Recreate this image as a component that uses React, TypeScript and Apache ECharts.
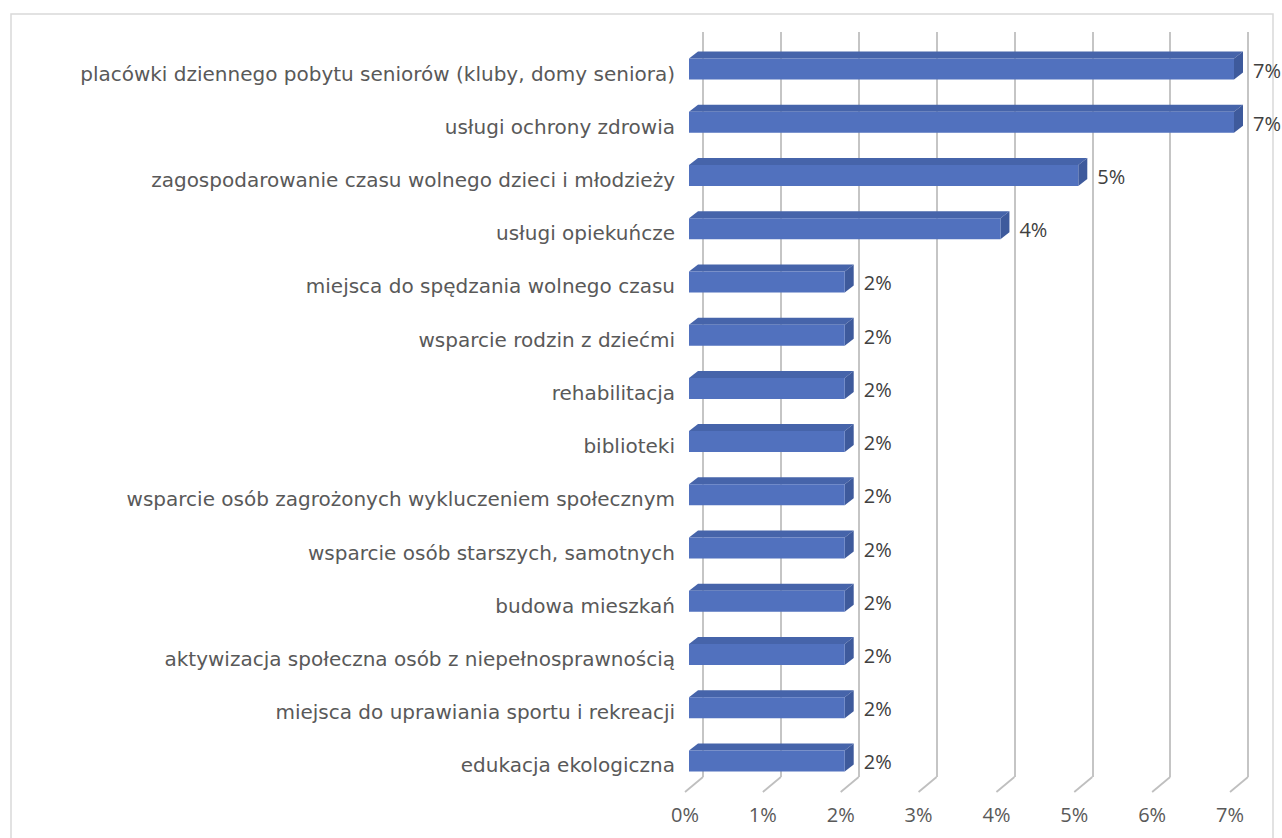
import React, { useEffect, useRef } from "react";
import * as echarts from "echarts";

const categories: string[] = [
  "placówki dziennego pobytu seniorów (kluby, domy seniora)",
  "usługi ochrony zdrowia",
  "zagospodarowanie czasu wolnego dzieci i młodzieży",
  "usługi opiekuńcze",
  "miejsca do spędzania wolnego czasu",
  "wsparcie rodzin z dziećmi",
  "rehabilitacja",
  "biblioteki",
  "wsparcie osób zagrożonych wykluczeniem społecznym",
  "wsparcie osób starszych, samotnych",
  "budowa mieszkań",
  "aktywizacja społeczna osób z niepełnosprawnością",
  "miejsca do uprawiania sportu i rekreacji",
  "edukacja ekologiczna",
];

const values: number[] = [7, 7, 5, 4, 2, 2, 2, 2, 2, 2, 2, 2, 2, 2];

const xTicks: number[] = [0, 1, 2, 3, 4, 5, 6, 7];

const FONT = "'Open Sans', 'Noto Sans', sans-serif";
const CAT_FONT = "'DejaVu Sans', 'Open Sans', sans-serif";
const GRID_COLOR = "#bfbfbf";

export default function App() {
  const ref = useRef<HTMLDivElement>(null);

  useEffect(() => {
    if (!ref.current) return;
    const chart = echarts.init(ref.current, undefined, { renderer: "svg" });

    const floorDx = -18;
    const floorDy = 15;
    const faceDx = -14;
    const faceTop = 0;
    const faceH = 21;
    const depthX = 9;
    const depthY = 7;

    const option: any = {
      animation: false,
      backgroundColor: "#ffffff",
      grid: [
        { left: 703, top: 32, width: 545, height: 745, containLabel: false },
        { left: 685, top: 47, width: 545, height: 745, containLabel: false },
      ],
      xAxis: [
        {
          gridIndex: 0,
          type: "value",
          min: 0,
          max: 7,
          interval: 1,
          axisLine: { show: false },
          axisTick: { show: false },
          axisLabel: { show: false },
          splitLine: { show: true, lineStyle: { color: GRID_COLOR, width: 1.8 } },
        },
        {
          gridIndex: 1,
          type: "value",
          min: 0,
          max: 7,
          interval: 1,
          axisLine: { show: false },
          axisTick: { show: false },
          splitLine: { show: false },
          axisLabel: {
            show: true,
            formatter: "{value}%",
            color: "#595959",
            fontSize: 20,
            fontFamily: FONT,
            margin: 12,
          },
        },
      ],
      yAxis: [
        {
          gridIndex: 0,
          type: "category",
          inverse: true,
          data: categories,
          axisLine: { show: false },
          axisTick: { show: false },
          axisLabel: { show: false },
          splitLine: { show: false },
        },
        {
          gridIndex: 1,
          type: "category",
          inverse: true,
          data: categories,
          axisLine: { show: false },
          axisTick: { show: false },
          splitLine: { show: false },
          axisLabel: {
            show: true,
            color: "#595959",
            fontSize: 20,
            fontFamily: CAT_FONT,
            margin: 10,
          },
        },
      ],
      graphic: [
        {
          type: "rect",
          shape: { x: 11, y: 14, width: 1262, height: 840 },
          style: { fill: "none", stroke: "#d9d9d9", lineWidth: 1.5 },
          silent: true,
          z: -10,
        },
      ],
      series: [
        {
          type: "custom",
          xAxisIndex: 0,
          yAxisIndex: 0,
          data: xTicks.map((t) => [t]),
          encode: { x: 0 },
          renderItem: (params: any, api: any) => {
            const t = api.value(0);
            const cs = params.coordSys;
            const bottom = cs.y + cs.height;
            const x = api.coord([t, 0])[0];
            return {
              type: "line",
              shape: { x1: x, y1: bottom, x2: x + floorDx, y2: bottom + floorDy },
              style: { stroke: GRID_COLOR, lineWidth: 1.8 },
            };
          },
          silent: true,
          z: 1,
        },
        {
          type: "custom",
          xAxisIndex: 0,
          yAxisIndex: 0,
          data: values.map((v, i) => [v, i]),
          encode: { x: 0, y: 1 },
          renderItem: (params: any, api: any) => {
            const v = api.value(0);
            const i = api.value(1);
            const p0 = api.coord([0, i]);
            const p1 = api.coord([v, i]);
            const x0 = p0[0] + faceDx;
            const x1 = p1[0] + faceDx;
            const yT = p0[1] + faceTop;
            const yB = yT + faceH;
            return {
              type: "group",
              children: [
                {
                  type: "polygon",
                  shape: {
                    points: [
                      [x0, yT],
                      [x0 + depthX, yT - depthY],
                      [x1 + depthX, yT - depthY],
                      [x1, yT],
                    ],
                  },
                  style: { fill: "#4664AA" },
                },
                {
                  type: "polygon",
                  shape: {
                    points: [
                      [x1, yT],
                      [x1 + depthX, yT - depthY],
                      [x1 + depthX, yB - depthY],
                      [x1, yB],
                    ],
                  },
                  style: { fill: "#3E5A9C" },
                },
                {
                  type: "rect",
                  shape: { x: x0, y: yT, width: x1 - x0, height: faceH },
                  style: { fill: "#5171BE" },
                },
                {
                  type: "text",
                  x: p1[0] + 5,
                  y: yT + faceH / 2 + 1,
                  style: {
                    text: v + "%",
                    fill: "#404040",
                    fontSize: 20,
                    fontFamily: FONT,
                    align: "left",
                    verticalAlign: "middle",
                  },
                },
              ],
            };
          },
          z: 2,
        },
      ],
    };

    chart.setOption(option);
    return () => {
      chart.dispose();
    };
  }, []);

  return (
    <div
      ref={ref}
      style={{
        position: "fixed",
        left: 0,
        top: 0,
        width: 1282,
        height: 838,
        background: "#ffffff",
      }}
    />
  );
}
